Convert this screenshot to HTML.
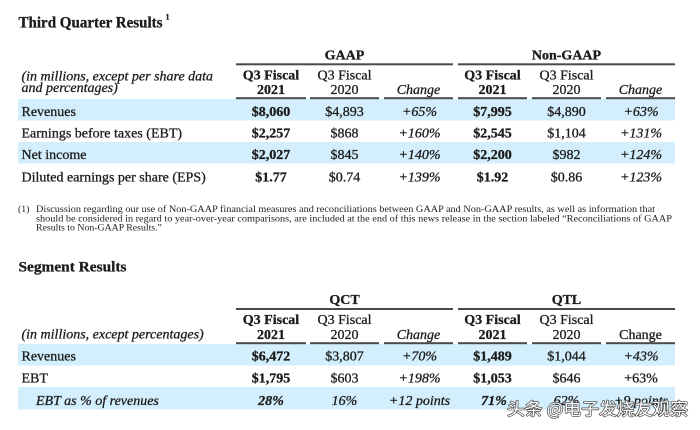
<!DOCTYPE html>
<html><head><meta charset="utf-8"><style>
html,body{margin:0;padding:0;background:#fff;}
svg{display:block;}
</style></head><body>
<svg width="700" height="430" viewBox="0 0 700 430" xmlns="http://www.w3.org/2000/svg" font-family="'Liberation Serif', serif" fill="#1c1c1c">
<rect width="700" height="430" fill="#fff"/>
<!-- bands -->
<g fill="#d3eefc">
<rect x="18" y="99" width="657" height="21.5"/>
<rect x="18" y="142" width="657" height="21.5"/>
<rect x="18" y="344" width="657" height="21.5"/>
<rect x="18" y="387" width="657" height="22.5"/>
</g>
<!-- lines -->
<g fill="#4a4a4a">
<rect x="236" y="63.3" width="217" height="2"/>
<rect x="458" y="63.3" width="217" height="2"/>
<rect x="236" y="97.2" width="70" height="2"/>
<rect x="310" y="97.2" width="69" height="2"/>
<rect x="384" y="97.2" width="69" height="2"/>
<rect x="458" y="97.2" width="69" height="2"/>
<rect x="532" y="97.2" width="69" height="2"/>
<rect x="606" y="97.2" width="69" height="2"/>
<rect x="236" y="308" width="217" height="2"/>
<rect x="458" y="308" width="217" height="2"/>
<rect x="236" y="342.2" width="70" height="2"/>
<rect x="310" y="342.2" width="69" height="2"/>
<rect x="384" y="342.2" width="69" height="2"/>
<rect x="458" y="342.2" width="69" height="2"/>
<rect x="532" y="342.2" width="69" height="2"/>
<rect x="606" y="342.2" width="69" height="2"/>
</g>

<g stroke="#1c1c1c" stroke-width="0.3">
<!-- Title -->
<text x="18.5" y="27.3" font-size="16" font-weight="bold" textLength="144" lengthAdjust="spacingAndGlyphs">Third Quarter Results</text>
<text x="165.5" y="19.5" font-size="8" font-weight="bold">1</text>

<g font-size="14">
<text x="344.5" y="59.5" text-anchor="middle" font-weight="bold">GAAP</text>
<text x="566.5" y="59.5" text-anchor="middle" font-weight="bold">Non-GAAP</text>

<text x="21.5" y="80.5" font-style="italic">(in millions, except per share data</text>
<text x="21.5" y="92" font-style="italic">and percentages)</text>

<g text-anchor="middle">
<text x="271" y="79.5" font-weight="bold">Q3 Fiscal</text>
<text x="271" y="94" font-weight="bold">2021</text>
<text x="344.5" y="79.5">Q3 Fiscal</text>
<text x="344.5" y="94">2020</text>
<text x="418.5" y="94" font-style="italic">Change</text>
<text x="492.5" y="79.5" font-weight="bold">Q3 Fiscal</text>
<text x="492.5" y="94" font-weight="bold">2021</text>
<text x="566.5" y="79.5">Q3 Fiscal</text>
<text x="566.5" y="94">2020</text>
<text x="640.5" y="94" font-style="italic">Change</text>
</g>

<text x="21.5" y="116">Revenues</text>
<text x="21.5" y="137.5">Earnings before taxes (EBT)</text>
<text x="21.5" y="159">Net income</text>
<text x="21.5" y="181.5">Diluted earnings per share (EPS)</text>

<g text-anchor="middle">
<text x="271" y="116" font-weight="bold">$8,060</text>
<text x="344.5" y="116">$4,893</text>
<text x="419.5" y="116" font-style="italic">+65%</text>
<text x="492.5" y="116" font-weight="bold">$7,995</text>
<text x="566.5" y="116">$4,890</text>
<text x="641" y="116" font-style="italic">+63%</text>

<text x="271" y="137.5" font-weight="bold">$2,257</text>
<text x="344.5" y="137.5">$868</text>
<text x="419.5" y="137.5" font-style="italic">+160%</text>
<text x="492.5" y="137.5" font-weight="bold">$2,545</text>
<text x="566.5" y="137.5">$1,104</text>
<text x="641" y="137.5" font-style="italic">+131%</text>

<text x="271" y="159" font-weight="bold">$2,027</text>
<text x="344.5" y="159">$845</text>
<text x="419.5" y="159" font-style="italic">+140%</text>
<text x="492.5" y="159" font-weight="bold">$2,200</text>
<text x="566.5" y="159">$982</text>
<text x="641" y="159" font-style="italic">+124%</text>

<text x="271" y="181.5" font-weight="bold">$1.77</text>
<text x="344.5" y="181.5">$0.74</text>
<text x="419.5" y="181.5" font-style="italic">+139%</text>
<text x="492.5" y="181.5" font-weight="bold">$1.92</text>
<text x="566.5" y="181.5">$0.86</text>
<text x="641" y="181.5" font-style="italic">+123%</text>
</g>
</g>

<!-- Segment -->
<text x="18.5" y="271.5" font-size="15" font-weight="bold" textLength="108" lengthAdjust="spacingAndGlyphs">Segment Results</text>

<g font-size="14">
<text x="344.5" y="304" text-anchor="middle" font-weight="bold">QCT</text>
<text x="566.5" y="304" text-anchor="middle" font-weight="bold">QTL</text>
<text x="21.5" y="338.3" font-style="italic">(in millions, except percentages)</text>

<g text-anchor="middle">
<text x="271" y="324" font-weight="bold">Q3 Fiscal</text>
<text x="271" y="339" font-weight="bold">2021</text>
<text x="344.5" y="324">Q3 Fiscal</text>
<text x="344.5" y="339">2020</text>
<text x="418.5" y="339" font-style="italic">Change</text>
<text x="492.5" y="324" font-weight="bold">Q3 Fiscal</text>
<text x="492.5" y="339" font-weight="bold">2021</text>
<text x="566.5" y="324">Q3 Fiscal</text>
<text x="566.5" y="339">2020</text>
<text x="640.5" y="339">Change</text>
</g>

<text x="21.5" y="360.7">Revenues</text>
<text x="21.5" y="382.5">EBT</text>
<text x="36" y="405" font-style="italic">EBT as % of revenues</text>

<g text-anchor="middle">
<text x="271" y="360.7" font-weight="bold">$6,472</text>
<text x="344.5" y="360.7">$3,807</text>
<text x="419.5" y="360.7" font-style="italic">+70%</text>
<text x="492.5" y="360.7" font-weight="bold">$1,489</text>
<text x="566.5" y="360.7">$1,044</text>
<text x="641" y="360.7" font-style="italic">+43%</text>

<text x="271" y="382.5" font-weight="bold">$1,795</text>
<text x="344.5" y="382.5">$603</text>
<text x="419.5" y="382.5" font-style="italic">+198%</text>
<text x="492.5" y="382.5" font-weight="bold">$1,053</text>
<text x="566.5" y="382.5">$646</text>
<text x="641" y="382.5">+63%</text>

<text x="271" y="405" font-weight="bold" font-style="italic">28%</text>
<text x="344.5" y="405" font-style="italic">16%</text>
<text x="419.5" y="405" font-style="italic">+12 points</text>
<text x="494" y="405" font-weight="bold" font-style="italic">71%</text>
<text x="566.5" y="405" font-style="italic">62%</text>
<text x="641" y="405" font-style="italic">+9 points</text>
</g>
</g>
</g>

<!-- footnote -->
<g font-size="9.8" fill="#222">
<text x="18" y="212">(1)</text>
<text x="36" y="212" textLength="619" lengthAdjust="spacingAndGlyphs">Discussion regarding our use of Non-GAAP financial measures and reconciliations between GAAP and Non-GAAP results, as well as information that</text>
<text x="36" y="221.5" textLength="636" lengthAdjust="spacingAndGlyphs">should be considered in regard to year-over-year comparisons, are included at the end of this news release in the section labeled “Reconciliations of GAAP</text>
<text x="36" y="230.7">Results to Non-GAAP Results.”</text>
</g>

<!-- watermark -->
<text x="507" y="415" font-family="'Noto Sans CJK SC', 'WenQuanYi Zen Hei', sans-serif" font-size="17" textLength="181" lengthAdjust="spacingAndGlyphs" fill="#ffffff" stroke="#4a4a4a" stroke-width="1.4" paint-order="stroke" stroke-linejoin="round">头条 @电子发烧友观察</text>
</svg>
</body></html>
